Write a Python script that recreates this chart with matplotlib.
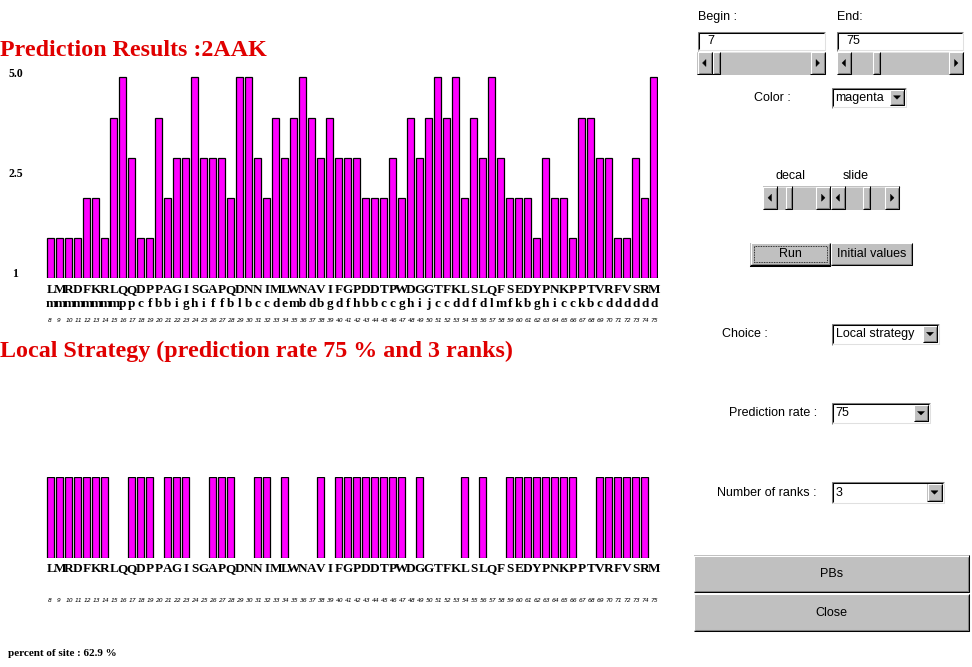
import matplotlib
matplotlib.use("Agg")
import matplotlib.pyplot as plt
import matplotlib.transforms as mtransforms
from matplotlib.patches import Rectangle, Polygon

# sequence window 8..75 of 2AAK
residues = list("LMRDFKRLQQDPPAGISGAPQDNNIMLWNAVIFGPDDTPWDGGTFKLSLQFSEDYPNKPPTVRFVSRM")
blocks = list("mmmmmmmmppcfbbighiffblbccdembdbgdfhbbccghijccddfdlmfkbghicckbcdddddd")
positions = list(range(8, 76))
scores = [1, 1, 1, 1, 2, 2, 1, 4, 5, 3, 1, 1, 4, 2, 3, 3, 5, 3, 3, 3, 2, 5, 5, 3, 2, 4, 3, 4, 5, 4, 3, 4,
          3, 3, 3, 2, 2, 2, 3, 2, 4, 3, 4, 5, 4, 5, 2, 4, 3, 5, 3, 2, 2, 2, 1, 3, 2, 2, 1, 4, 4, 3, 3, 1, 1, 3, 2, 5]
local_hits = [1, 1, 1, 1, 1, 1, 1, 0, 0, 1, 1, 1, 0, 1, 1, 1, 0, 0, 1, 1, 1, 0, 0, 1,
              1, 0, 1, 0, 0, 0, 1, 0, 1, 1, 1, 1, 1, 1, 1, 1, 0, 1, 0, 0, 0, 0, 1, 0,
              1, 0, 0, 1, 1, 1, 1, 1, 1, 1, 1, 0, 0, 1, 1, 1, 1, 1, 1, 0]
y_tick_labels = ["1", "2.5", "5.0"]
title_top = "Prediction Results :2AAK"
title_bottom = "Local Strategy (prediction rate 75 % and 3 ranks)"
percent_text = "percent of site : 62.9 %"

W, H = 972, 667
MAGENTA = "#ff00ff"
RED = "#e00000"
GREY = "#c0c0c0"
SERIF = "Liberation Serif"
SANS = "Liberation Sans"

fig = plt.figure(figsize=(W / 100, H / 100), dpi=100)
fig.patch.set_facecolor("white")

# full figure overlay in pixel coordinates for texts and widgets
ui = fig.add_axes([0, 0, 1, 1])
ui.set_xlim(0, W)
ui.set_ylim(H, 0)
ui.set_axis_off()
ui.patch.set_alpha(0)


def frac(x0, ytop, w, h):
    return [x0 / W, (H - ytop - h) / H, w / W, h / H]


n = len(residues)
xs = list(range(n))

# top chart
ax1 = fig.add_axes(frac(46.3, 69.3, 612, 209))
ax1.bar(xs, scores, width=0.78, color=MAGENTA, edgecolor="black", linewidth=0.9)
ax1.set_xlim(-0.5, n - 0.5)
ax1.set_ylim(0, 5.2)
ax1.set_axis_off()

# bottom chart
ax2 = fig.add_axes(frac(46.3, 477.3, 612, 81))
hx = [x for x, h in zip(xs, local_hits) if h]
hy = [h for h in local_hits if h]
ax2.bar(hx, hy, width=0.78, color=MAGENTA, edgecolor="black", linewidth=0.9)
ax2.set_xlim(-0.5, n - 0.5)
ax2.set_ylim(0, 1)
ax2.set_axis_off()

t1 = mtransforms.blended_transform_factory(ax1.transData, ui.transData)
t2 = mtransforms.blended_transform_factory(ax2.transData, ui.transData)

for i in xs:
    ui.text(i, 290, residues[i], transform=t1, ha="center", va="center",
            family=SERIF, weight="bold", fontsize=9.5)
    ui.text(i, 304, blocks[i], transform=t1, ha="center", va="center",
            family=SERIF, weight="bold", fontsize=9.5)
    ui.text(i - 0.35, 321, str(positions[i]), transform=t1, ha="left", va="center",
            family="DejaVu Sans", style="italic", fontsize=4.3)
    ui.text(i, 569, residues[i], transform=t2, ha="center", va="center",
            family=SERIF, weight="bold", fontsize=9.5)
    ui.text(i - 0.35, 600, str(positions[i]), transform=t2, ha="left", va="center",
            family="DejaVu Sans", style="italic", fontsize=4.3)

# y labels of the top chart
for lab, yy in zip(y_tick_labels, [274, 174, 74]):
    ui.text(15.5, yy, lab, ha="center", va="center", family=SERIF, weight="bold", fontsize=8.5)

ui.text(0, 50, title_top, ha="left", va="center", family=SERIF, weight="bold",
        fontsize=17.3, color=RED)
ui.text(0, 351, title_bottom, ha="left", va="center", family=SERIF, weight="bold",
        fontsize=17.3, color=RED)
ui.text(8, 654, percent_text, ha="left", va="center", family=SERIF, weight="bold", fontsize=8)


# ---- widgets ----
def line(xx, yy, c):
    ui.plot(xx, yy, color=c, lw=0.75, solid_capstyle="butt")


def raised(x0, y0, x1, y1, face=GREY):
    ui.add_patch(Rectangle((x0, y0), x1 - x0, y1 - y0, facecolor=face, edgecolor="none"))
    line([x0 + 0.5, x0 + 0.5, x1 - 1], [y1 - 1, y0 + 0.5, y0 + 0.5], "white")
    line([x0, x1 - 0.5, x1 - 0.5], [y1 - 0.5, y1 - 0.5, y0], "black")
    line([x0 + 1.5, x1 - 1.5, x1 - 1.5], [y1 - 1.5, y1 - 1.5, y0 + 1.5], "#808080")


def sunken(x0, y0, x1, y1, face="white"):
    ui.add_patch(Rectangle((x0, y0), x1 - x0, y1 - y0, facecolor=face, edgecolor="none"))
    line([x0 + 0.5, x0 + 0.5, x1 - 0.5], [y1, y0 + 0.5, y0 + 0.5], "#808080")
    line([x0 + 1.5, x0 + 1.5, x1 - 1.5], [y1 - 1.5, y0 + 1.5, y0 + 1.5], "black")
    line([x0 + 1, x1 - 0.5, x1 - 0.5], [y1 - 0.5, y1 - 0.5, y0 + 1], "#e0e0e0")


def arrow(cx, cy, d):
    if d == "left":
        pts = [(cx + 1.5, cy - 3.5), (cx + 1.5, cy + 3.5), (cx - 2, cy)]
    elif d == "right":
        pts = [(cx - 1.5, cy - 3.5), (cx - 1.5, cy + 3.5), (cx + 2, cy)]
    else:
        pts = [(cx - 3.5, cy - 1.5), (cx + 3.5, cy - 1.5), (cx, cy + 2)]
    ui.add_patch(Polygon(pts, closed=True, facecolor="black", edgecolor="black", lw=0.3))


def scrollbar(x0, y0, x1, y1, t0, t1):
    ui.add_patch(Rectangle((x0, y0), x1 - x0, y1 - y0, facecolor=GREY, edgecolor="none"))
    line([x0, x1], [y0 + 0.5, y0 + 0.5], "#e0e0e0")
    raised(x0, y0, x0 + 15, y1)
    arrow(x0 + 7.5, (y0 + y1) / 2, "left")
    raised(x1 - 15, y0, x1, y1)
    arrow(x1 - 7.5, (y0 + y1) / 2, "right")
    raised(t0, y0, t1, y1)


def choice(x0, y0, x1, y1, txt):
    sunken(x0, y0, x1, y1)
    raised(x1 - 17, y0 + 2, x1 - 2, y1 - 2)
    arrow(x1 - 9.5, (y0 + y1) / 2, "down")
    ui.text(x0 + 4, (y0 + y1) / 2 + 0.5, txt, ha="left", va="center", family=SANS, fontsize=9)


def button(x0, y0, x1, y1, txt, focus=False):
    raised(x0, y0, x1, y1)
    ui.text((x0 + x1) / 2, (y0 + y1) / 2 + 0.5, txt, ha="center", va="center",
            family=SANS, fontsize=9)
    if focus:
        ui.add_patch(Rectangle((x0 + 3.5, y0 + 3.5), x1 - x0 - 7, y1 - y0 - 7, facecolor="none",
                               edgecolor="black", lw=0.6, linestyle=(0, (1, 1))))


def label(x, y, txt, ha="left"):
    ui.text(x, y, txt, ha=ha, va="center", family=SANS, fontsize=9)


label(698, 17, "Begin :")
label(837, 17, "End:")
sunken(697, 31.5, 825, 50.5)
ui.text(707, 41, "7", ha="left", va="center", family=SANS, fontsize=9)
sunken(836.5, 31.5, 963.5, 50.5)
ui.text(846, 41, "75", ha="left", va="center", family=SANS, fontsize=9)
scrollbar(697, 51.5, 825, 74.5, 712, 720.5)
scrollbar(836.5, 51.5, 963.5, 74.5, 872.5, 880.5)

label(754, 98, "Color :")
choice(831.5, 87, 906.5, 107.5, "magenta")

label(790, 176, "decal", ha="center")
label(856, 176, "slide", ha="center")
scrollbar(762.5, 186, 830.5, 209.5, 785, 792.5)
scrollbar(830.5, 186, 899.5, 209.5, 862.5, 870.5)

ui.plot([750, 830], [265.5, 265.5], color="black", lw=0.75)
button(750, 242.5, 830, 265, "Run", focus=True)
button(830.5, 242.5, 912.5, 265, "Initial values")

label(722, 334, "Choice :")
choice(831.5, 323, 939.5, 344.5, "Local strategy")
label(729, 413, "Prediction rate :")
choice(831.5, 402.5, 930.5, 423.5, "75")
label(717, 492.5, "Number of ranks :")
choice(831.5, 481.5, 944, 503, "3")

button(693.5, 555, 969.5, 592, "PBs")
button(693.5, 593.5, 969.5, 631, "Close")

fig.savefig("out.png", dpi=100, facecolor="white")
